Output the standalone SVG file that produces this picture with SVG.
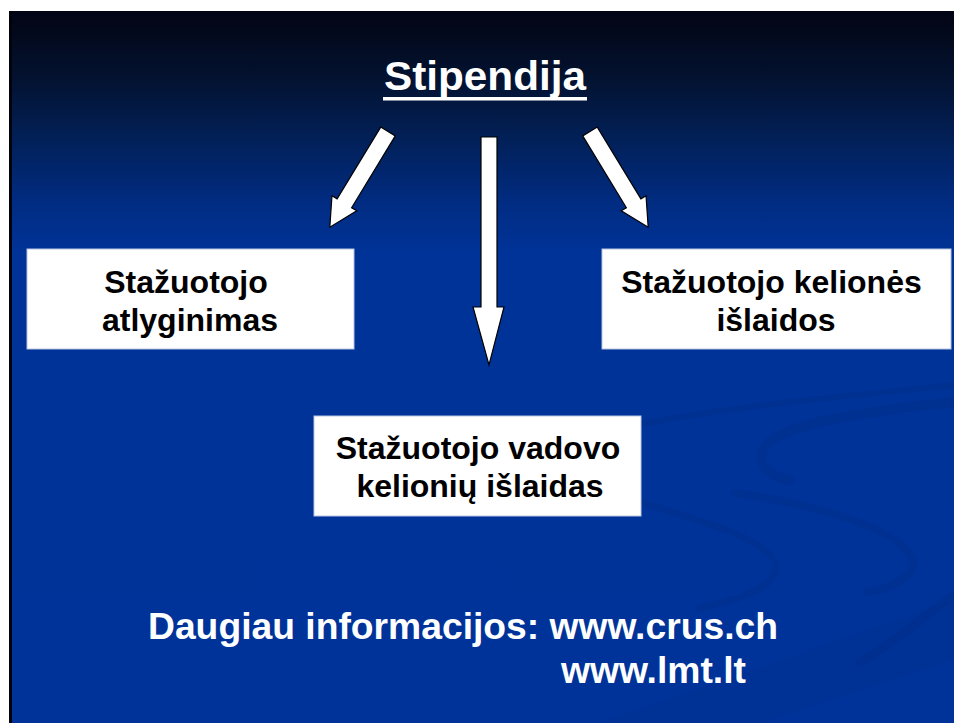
<svg xmlns="http://www.w3.org/2000/svg" width="954" height="723" viewBox="0 0 954 723">
<defs>
<linearGradient id="bg" x1="0" y1="11" x2="0" y2="723" gradientUnits="userSpaceOnUse">
<stop offset="0" stop-color="#020414"/>
<stop offset="0.03" stop-color="#03091c"/>
<stop offset="0.1" stop-color="#031332"/>
<stop offset="0.18" stop-color="#022058"/>
<stop offset="0.27" stop-color="#012c82"/>
<stop offset="0.34" stop-color="#003398"/>
<stop offset="1" stop-color="#003399"/>
</linearGradient>
<style>
.box{fill:#ffffff;stroke:#b8c4e0;stroke-width:1}
.bt{font-family:"Liberation Sans",Arial,sans-serif;font-weight:bold;font-size:32px;fill:#000000;text-anchor:middle}
.wt{font-family:"Liberation Sans",Arial,sans-serif;font-weight:bold;fill:#ffffff}
.arr{fill:#ffffff;stroke:#000000;stroke-width:1.2;stroke-linejoin:miter}
.sw{fill:none;stroke:#002d8a;stroke-linecap:round;opacity:0.55}
</style>
</defs>
<rect x="0" y="0" width="954" height="723" fill="#ffffff"/>
<rect x="9" y="11" width="945" height="712" fill="url(#bg)"/>
<rect x="9" y="11" width="3" height="712" fill="#02030c"/>
<g id="swooshes">
<path class="sw" stroke-width="6" d="M640 424 C 740 405, 860 395, 954 385"/>
<path class="sw" stroke-width="10" d="M954 402 C 860 412, 770 425, 762 452 C 758 468, 775 478, 790 480"/>
<path class="sw" stroke-width="8" d="M735 493 C 820 505, 900 530, 912 558 C 918 575, 890 590, 868 592"/>
<path class="sw" stroke-width="7" d="M643 503 C 700 520, 770 540, 776 565 C 780 585, 740 600, 700 608"/>
<path class="sw" stroke-width="8" d="M860 662 C 900 640, 930 610, 954 595"/>
<path d="M600 723 L954 600 L954 660 L760 723 Z" fill="#002f8f" opacity="0.35"/>
</g>
<g id="title">
<text class="wt" x="384" y="90" font-size="40" textLength="202" lengthAdjust="spacingAndGlyphs">Stipendija</text>
<rect x="383" y="97" width="204" height="3.5" fill="#ffffff"/>
</g>
<g id="connectors">
<polygon class="arr" transform="translate(388,131.5) rotate(31.3)" points="-8.5,0 8.5,0 8.5,84 14.5,84 0,112 -14.5,84 -8.5,84"/>
<polygon class="arr" points="481,137 497,137 497,307 504,307 489,365 473,307 481,307"/>
<polygon class="arr" transform="translate(590,131.5) rotate(-31.3)" points="-8.5,0 8.5,0 8.5,84 14.5,84 0,112 -14.5,84 -8.5,84"/>
</g>
<g id="node-atlyginimas">
<rect class="box" x="27" y="249" width="327" height="100"/>
<text class="bt" x="186" y="293">Stažuotojo</text>
<text class="bt" x="190" y="331">atlyginimas</text>
</g>
<g id="node-vadovo">
<rect class="box" x="314" y="416" width="327" height="100"/>
<text class="bt" x="478" y="459">Stažuotojo vadovo</text>
<text class="bt" x="480" y="497">kelionių išlaidas</text>
</g>
<g id="node-kelione">
<rect class="box" x="602" y="249" width="349" height="100"/>
<text class="bt" x="771.5" y="293">Stažuotojo kelionės</text>
<text class="bt" x="776" y="331">išlaidos</text>
</g>
<g id="info">
<text class="wt" x="148" y="639" font-size="37" textLength="630" lengthAdjust="spacingAndGlyphs">Daugiau informacijos: www.crus.ch</text>
<text class="wt" x="561" y="683" font-size="37" textLength="185" lengthAdjust="spacingAndGlyphs">www.lmt.lt</text>
</g>
</svg>
